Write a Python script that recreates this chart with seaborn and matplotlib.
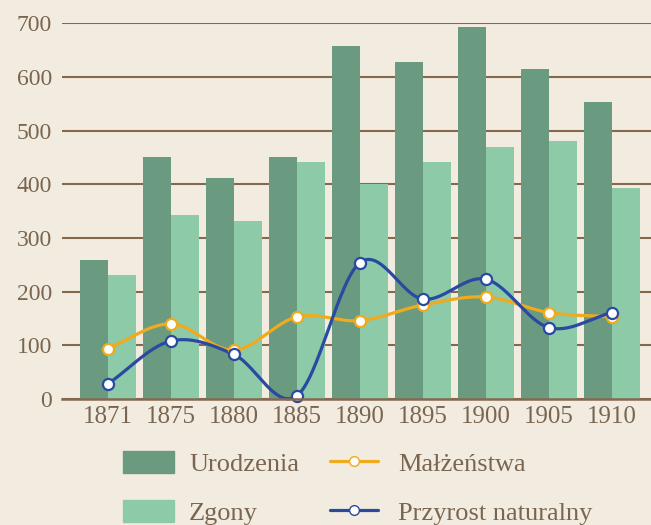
import numpy as np
import pandas as pd
import seaborn as sns
import matplotlib.pyplot as plt
from matplotlib.patches import Patch
from matplotlib.lines import Line2D

years = ["1871", "1875", "1880", "1885", "1890", "1895", "1900", "1905", "1910"]
urodzenia = [258, 450, 412, 450, 658, 627, 692, 615, 554]
zgony = [231, 342, 331, 442, 400, 442, 469, 480, 392]
malzenstwa = [94, 140, 91, 153, 146, 175, 190, 161, 153]
przyrost = [28, 108, 83, 6, 254, 186, 223, 133, 161]
y_ticks = [0, 100, 200, 300, 400, 500, 600, 700]

BG = "#f2ece0"
BROWN = "#85694f"
TEXT = "#7a6650"
DARK = "#6a9a80"
LIGHT = "#8ccaa8"
ORANGE = "#f0aa1e"
BLUE = "#2a4aa2"


def smooth(xs, ys, n=30):
    # catmull-rom curve through the points, like the spreadsheet "smooth line"
    xs = np.asarray(xs, float)
    ys = np.asarray(ys, float)
    px = np.concatenate([[2 * xs[0] - xs[1]], xs, [2 * xs[-1] - xs[-2]]])
    py = np.concatenate([[2 * ys[0] - ys[1]], ys, [2 * ys[-1] - ys[-2]]])
    out_x, out_y = [], []
    t = np.linspace(0, 1, n)
    for i in range(1, len(px) - 2):
        for p, out in ((px, out_x), (py, out_y)):
            p0, p1, p2, p3 = p[i - 1], p[i], p[i + 1], p[i + 2]
            seg = 0.5 * ((2 * p1) + (-p0 + p2) * t
                         + (2 * p0 - 5 * p1 + 4 * p2 - p3) * t ** 2
                         + (-p0 + 3 * p1 - 3 * p2 + p3) * t ** 3)
            out.extend(seg)
    return out_x, out_y


sns.set_style("white")
plt.rcParams["font.family"] = ["Liberation Serif", "DejaVu Serif"]

df = pd.DataFrame({"rok": years, "Urodzenia": urodzenia, "Zgony": zgony})
long_df = df.melt(id_vars="rok", var_name="seria", value_name="liczba")

fig = plt.figure(figsize=(6.51, 5.25), dpi=100, facecolor=BG)
ax = fig.add_axes([0.095, 0.24, 0.905, 0.716])
ax.set_facecolor(BG)

sns.barplot(data=long_df, x="rok", y="liczba", hue="seria",
            palette=[DARK, LIGHT], width=0.88, gap=0, saturation=1,
            linewidth=0, legend=False, ax=ax, zorder=2)

xpos = np.arange(len(years))
for vals, col in ((malzenstwa, ORANGE), (przyrost, BLUE)):
    cx, cy = smooth(xpos, vals)
    ax.plot(cx, cy, color=col, lw=2.3, zorder=3, clip_on=False)
    ax.plot(xpos, vals, ls="none", marker="o", ms=8, mfc="white",
            mec=col, mew=1.6, zorder=4, clip_on=False)

ax.set_xlim(-0.73, 8.62)
ax.set_ylim(0, 700)
ax.set_yticks(y_ticks)
ax.set_xlabel("")
ax.set_ylabel("")
ax.grid(axis="y", color=BROWN, lw=1.5, zorder=0)
ax.set_axisbelow(True)
for s in ["top", "right", "left"]:
    ax.spines[s].set_visible(False)
ax.spines["bottom"].set_color(BROWN)
ax.spines["bottom"].set_linewidth(1.8)
ax.spines["bottom"].set_zorder(5)
ax.tick_params(axis="y", length=0, pad=7, labelsize=17, labelcolor=TEXT)
ax.tick_params(axis="x", length=0, pad=5, labelsize=18, labelcolor=TEXT)

bar_handles = [Patch(color=DARK, label="Urodzenia"),
               Patch(color=LIGHT, label="Zgony")]
line_handles = [Line2D([], [], color=ORANGE, lw=2.3, marker="o", ms=7,
                       mfc="white", mec=ORANGE, label="Małżeństwa"),
                Line2D([], [], color=BLUE, lw=2.3, marker="o", ms=7,
                       mfc="white", mec=BLUE, label="Przyrost naturalny")]
leg_kw = dict(frameon=False, fontsize=19, labelcolor=TEXT, borderpad=0,
              borderaxespad=0, labelspacing=0.9, handleheight=0.9)
fig.legend(handles=bar_handles, loc="upper left",
           bbox_to_anchor=(123 / 651, 1 - 451 / 525),
           handlelength=1.93, handletextpad=0.57, **leg_kw)
fig.legend(handles=line_handles, loc="upper left",
           bbox_to_anchor=(330 / 651, 1 - 451 / 525),
           handlelength=1.82, handletextpad=0.76, **leg_kw)

fig.savefig("out.png", dpi=100, facecolor=BG)
